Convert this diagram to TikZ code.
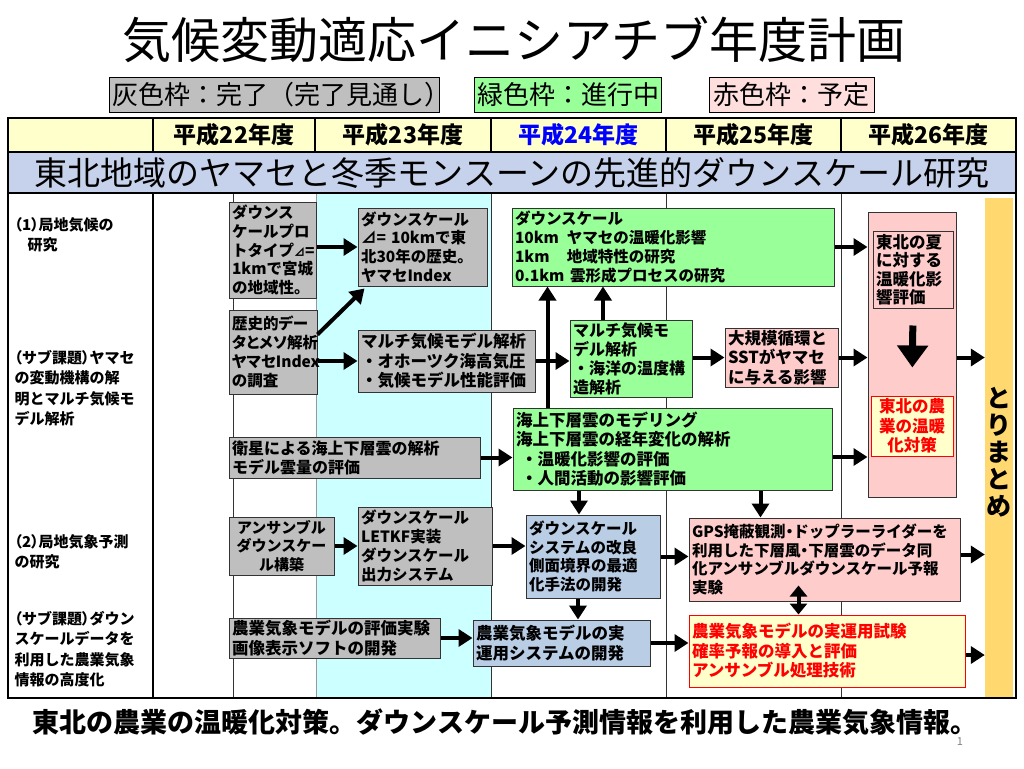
\documentclass[tikz,border=0pt]{standalone}
\usepackage{fontspec}
\setmainfont{Noto Sans CJK JP}
\newfontfamily\pf{Noto Sans CJK JP}[RawFeature=+palt]
\usetikzlibrary{arrows.meta,calc}
\definecolor{cgray}{RGB}{191,191,191}
\definecolor{cgreen}{RGB}{153,255,153}
\definecolor{cpink}{RGB}{255,204,204}
\definecolor{cblue}{RGB}{185,205,229}
\definecolor{cyel}{RGB}{255,255,204}
\definecolor{cband}{RGB}{198,210,235}
\definecolor{ccyan}{RGB}{204,255,255}
\definecolor{cbar}{RGB}{255,217,112}
\definecolor{cred}{RGB}{255,0,0}
\definecolor{clegpink}{RGB}{255,222,222}
\definecolor{cblueyear}{RGB}{0,0,255}
\newcommand\Lpz{{\pf （}}
\newcommand\Rpz{{\pf ）}}
\newcommand\Ndot{{\pf ・}}
\newcommand\plbox[7]{%
 \pgfmathsetmacro\bxw{#4-#2}%
 \pgfmathsetmacro\bxh{#5-#3}%
 \pgfmathsetmacro\bxt{#4-#2-6}%
 \node[#6, minimum width=\bxw pt, minimum height=\bxh pt, text width=\bxt pt] (#1) at ({(#2+#4)/2},{(#3+#5)/2}) {#7};}
\tikzset{
 bxb/.style={draw=black!80, line width=1pt, inner xsep=3pt, inner ysep=1pt, align=left, font=\bfseries\fontsize{16.5}{19.5}\selectfont},
 fsmall/.style={font=\bfseries\fontsize{15.5}{18.7}\selectfont},
 fprop/.style={font=\pf\bfseries\fontsize{15.5}{18.7}\selectfont},
 fmid/.style={font=\bfseries\fontsize{16}{19}\selectfont},
 grayb/.style={bxb, fill=cgray},
 greenb/.style={bxb, fill=cgreen},
 pinkb/.style={bxb, fill=cpink},
 blueb/.style={bxb, fill=cblue},
 yelb/.style={bxb, fill=cyel, draw=cred, text=cred},
 arr/.style={line width=4pt, -{Triangle[length=14pt,width=17pt]}},
 bigarr/.style={line width=7pt, -{Triangle[length=22pt,width=30pt]}},
 darr/.style={line width=4pt, {Triangle[length=11pt,width=17pt]}-{Triangle[length=11pt,width=17pt]}},
 legb/.style={draw=black, line width=1pt, inner sep=0pt, align=center, font=\fontsize{26}{30}\selectfont},
 hdr/.style={font=\bfseries\fontsize{23}{26}\selectfont},
 lbl/.style={anchor=west, align=left, font=\bfseries\fontsize{15}{20.5}\selectfont},
 tline/.style={line width=1.5pt, black},
 bline/.style={line width=0.8pt, black!80},
}
\begin{document}
\begin{tikzpicture}[x=1pt,y=-1pt]
\useasboundingbox (0,0) rectangle (1024,768);
\fill[white] (0,0) rectangle (1024,768);
% title
\node[font=\fontsize{49}{53}\selectfont] (title) at (514,40) {気候変動適応イニシアチブ年度計画};
% legend
\plbox{leg1}{109}{77}{439}{112}{legb, fill=cgray}{灰色枠：完了（完了見通し）}
\plbox{leg2}{474}{77}{661}{112}{legb, fill=cgreen}{緑色枠：進行中}
\plbox{leg3}{709}{77}{874}{112}{legb, fill=clegpink}{赤色枠：予定}
% table backgrounds
\fill[cyel] (8,118) rectangle (1016,152);
\fill[cband] (8,152) rectangle (1016,193);
\fill[ccyan] (316,193) rectangle (491,698);
% grid
\draw[line width=0.5pt, black!40] (316,193) -- (316,698);
\draw[bline] (233,193) -- (233,698);
\draw[bline] (491,193) -- (491,698);
\draw[bline] (666,193) -- (666,698);
\draw[bline] (841,193) -- (841,698);
\draw[tline] (153,193) -- (153,698);
\foreach \xx in {153,315,491,666,841} \draw[tline] (\xx,118) -- (\xx,152);
\draw[tline] (8,152) -- (1016,152);
\draw[tline] (8,193) -- (1016,193);
\draw[tline] (8,118) rectangle (1016,698);
% header
\node[hdr] (h22) at (234,135) {平成22年度};
\node[hdr] (h23) at (403,135) {平成23年度};
\node[hdr, text=cblueyear] (h24) at (578.5,135) {平成24年度};
\node[hdr] (h25) at (753.5,135) {平成25年度};
\node[hdr] (h26) at (928.5,135) {平成26年度};
\node[font=\fontsize{33}{36}\selectfont] (band) at (512,173) {東北地域のヤマセと冬季モンスーンの先進的ダウンスケール研究};
% left labels
\node[lbl] (l1) at (11,235) {\Lpz 1\Rpz 局地気候の\\\hspace*{13pt}研究};
\node[lbl] (l2) at (11,388) {\Lpz サブ課題\Rpz ヤマセ\\の変動機構の解\\明とマルチ気候モ\\デル解析};
\node[lbl] (l3) at (11,552) {\Lpz 2\Rpz 局地気象予測\\の研究};
\node[lbl] (l4) at (11,649) {\Lpz サブ課題\Rpz ダウン\\スケールデータを\\利用した農業気象\\情報の高度化};
% summary bar
\node[fill=cbar, minimum width=28pt, minimum height=499pt, inner sep=0pt] (bar) at (999,447.5) {};
\node[font=\bfseries\fontsize{25}{27}\selectfont, align=center] (tm) at (999,452) {と\\り\\ま\\と\\め};
% boxes
\plbox{g1}{229}{202}{316}{298}{grayb, fsmall}{ダウンス\\ケールプロ\\トタイプ{\fontsize{11}{11}\selectfont ⊿}=\\1kmで宮城\\の地域性。}
\plbox{g2}{229}{310}{317}{394}{grayb, fprop}{歴史的デー\\タとメソ解析\\ヤマセIndex\\の調査}
\plbox{g3}{358}{208}{487}{286}{grayb, fsmall}{ダウンスケール\\⊿= 10kmで東\\北30年の歴史。\\ヤマセIndex}
\plbox{gr1}{512}{208}{834}{286}{greenb, fsmall}{ダウンスケール\\\makebox[52pt][l]{10km}ヤマセの温暖化影響\\\makebox[52pt][l]{1km}地域特性の研究\\\makebox[55pt][l]{0.1km}雲形成プロセスの研究}
\plbox{g4}{358}{330}{535}{392}{grayb}{マルチ気候モデル解析\\・オホーツク海高気圧\\・気候モデル性能評価}
\plbox{gr2}{570}{320}{692}{397}{greenb, fmid}{マルチ気候モ\\デル解析\\・海洋の温度構\\造解析}
\plbox{r1}{725}{328}{838}{387}{pinkb}{大規模循環と\\SSTがヤマセ\\に与える影響}
\plbox{rb}{868}{212}{956}{497}{pinkb}{}
\plbox{r2}{873}{231}{953}{308}{pinkb, font=\bfseries\fontsize{16.5}{18.5}\selectfont}{東北の夏\\に対する\\温暖化影\\響評価}
\plbox{r3}{871}{396}{953}{456}{yelb, align=center}{東北の農\\業の温暖\\化対策}
\plbox{g5}{229}{437}{480}{478}{grayb, fmid}{衛星による海上下層雲の解析\\モデル雲量の評価}
\plbox{gr3}{513}{408}{832}{490}{greenb}{海上下層雲のモデリング\\海上下層雲の経年変化の解析\\\hspace*{5pt}・温暖化影響の評価\\\hspace*{5pt}・人間活動の影響評価}
\plbox{g6}{229}{517}{334}{575}{grayb, align=center, font=\bfseries\fontsize{15}{18.7}\selectfont}{アンサンブル\\ダウンスケー\\ル構築}
\plbox{g7}{358}{507}{492}{585}{grayb, fsmall}{ダウンスケール\\LETKF実装\\ダウンスケール\\出力システム}
\plbox{b1}{526}{515}{660}{598}{blueb, fsmall}{ダウンスケール\\システムの改良\\側面境界の最適\\化手法の開発}
\plbox{r4}{689}{518}{960}{601}{pinkb, fsmall}{GPS掩蔽観測\Ndot ドップラーライダーを\\利用した下層風\Ndot 下層雲のデータ同\\化アンサンブルダウンスケール予報\\実験}
\plbox{g8}{229}{618}{440}{658}{grayb}{農業気象モデルの評価実験\\画像表示ソフトの開発}
\plbox{b2}{473}{620}{650}{666}{blueb}{農業気象モデルの実\\運用システムの開発}
\plbox{r5}{689}{615}{965}{687}{yelb}{農業気象モデルの実運用試験\\確率予報の導入と評価\\アンサンブル処理技術}
% arrows
\draw[arr] (g1.east |- g3.west) -- (g3.west);
\draw[arr] ([yshift=-25pt]g2.north east) -- ([xshift=7pt,yshift=-2pt]g3.south west);
\draw[arr] (g2.east |- g4.west) -- (g4.west);
\draw[arr] (g4.east) -- (g4.east -| gr2.west);
\draw[arr] ([xshift=-28pt]gr2.north) -- ([xshift=-28pt]gr2.north |- gr1.south);
\draw[arr] ([xshift=35pt]gr3.north west) -- ([xshift=35pt]gr3.north west |- gr1.south);
\draw[arr] (gr2.east |- r1.west) -- (r1.west);
\draw[arr] (r1.east) -- (r1.east -| rb.west);
\draw[arr] (gr1.east) -- (gr1.east -| rb.west);
\draw[arr] ([yshift=-8pt]gr3.east) -- ([yshift=-8pt]gr3.east -| rb.west);
\draw[arr] (rb.east |- r1.east) -- (bar.west |- r1.east);
\draw[bigarr, shorten <=17pt, shorten >=28pt] (r2.south) -- (r3.north);
\draw[arr] (g5.east) -- (g5.east -| gr3.west);
\draw[arr] (g6.east) -- (g6.east -| g7.west);
\draw[arr] (g7.east) -- (g7.east -| b1.west);
\draw[arr] ([xshift=-14pt]b1.north |- gr3.south) -- ([xshift=-14pt]b1.north);
\draw[arr] ([xshift=72pt]r4.north west |- gr3.south) -- ([xshift=72pt]r4.north west);
\draw[arr] (b1.east) -- (b1.east -| r4.west);
\draw[arr] ([yshift=5pt]r4.east) -- ([yshift=5pt]r4.east -| bar.west);
\draw[arr] ([xshift=-15pt]b1.south) -- ([xshift=-15pt]b1.south |- b2.north);
\draw[darr] ([xshift=110pt,yshift=16pt]r4.south west) -- ([xshift=110pt]r4.south west |- r5.north);
\draw[arr] (g8.east) -- (g8.east -| b2.west);
\draw[arr] (b2.east) -- (b2.east -| r5.west);
\draw[arr] ([yshift=-4pt]r5.east) -- ([yshift=-4pt]r5.east -| bar.west);
% caption
\node[font=\bfseries\fontsize{27}{30}\selectfont] (cap) at (505,722) {東北の農業の温暖化対策。ダウンスケール予測情報を利用した農業気象情報。};
\node[font=\fontsize{11}{12}\selectfont, text=black!50] (pg) at (960,742) {1};
\end{tikzpicture}
\end{document}
